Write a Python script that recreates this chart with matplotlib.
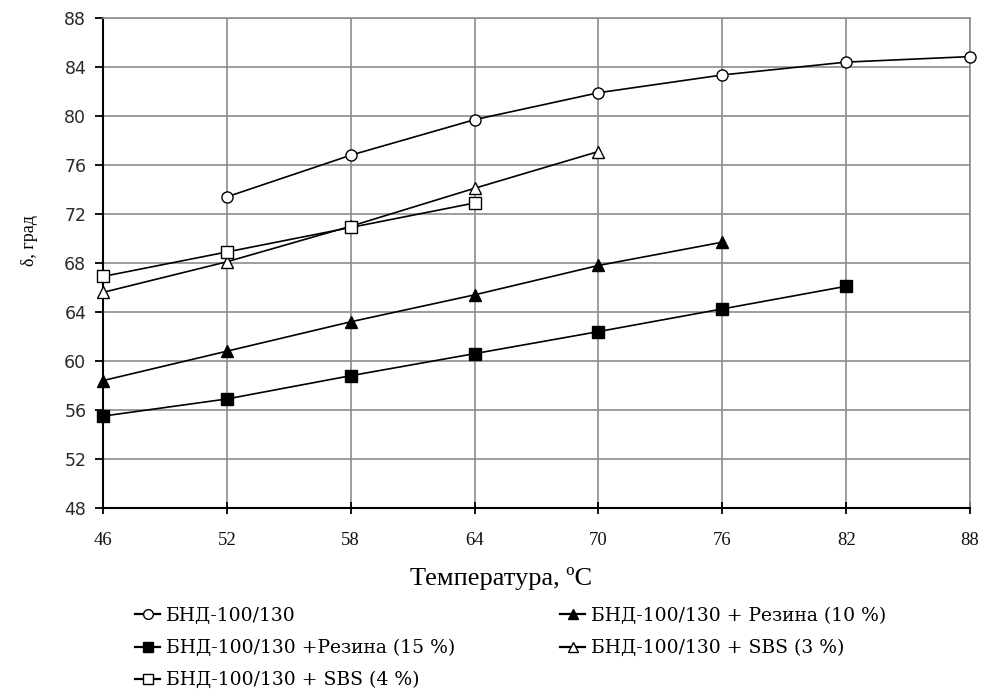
import matplotlib
matplotlib.use("Agg")
import matplotlib.pyplot as plt

temps_all = [46, 52, 58, 64, 70, 76, 82, 88]

x_bnd = [52, 58, 64, 70, 76, 82, 88]
y_bnd = [73.4, 76.8, 79.7, 81.9, 83.35, 84.4, 84.85]

x_rez10 = [46, 52, 58, 64, 70, 76]
y_rez10 = [58.4, 60.8, 63.2, 65.4, 67.8, 69.7]

x_rez15 = [46, 52, 58, 64, 70, 76, 82]
y_rez15 = [55.5, 56.9, 58.8, 60.6, 62.4, 64.25, 66.1]

x_sbs3 = [46, 52, 58, 64, 70]
y_sbs3 = [65.6, 68.1, 71.0, 74.1, 77.1]

x_sbs4 = [46, 52, 58, 64]
y_sbs4 = [66.9, 68.9, 70.9, 72.9]

labels = [
    "БНД-100/130",
    "БНД-100/130 + Резина (10 %)",
    "БНД-100/130 +Резина (15 %)",
    "БНД-100/130 + SBS (3 %)",
    "БНД-100/130 + SBS (4 %)",
]
y_ticks = list(range(48, 89, 4))

fig = plt.figure(figsize=(9.84, 6.9), dpi=100)
ax = fig.add_axes([0.1047, 0.2638, 0.8811, 0.7101])

lw = 1.2
ms = 8
common = dict(color="black", lw=lw, markersize=ms, markeredgewidth=1.0, zorder=3, clip_on=False)
h1, = ax.plot(x_bnd, y_bnd, marker="o", mfc="white", mec="black", label=labels[0], **common)
h2, = ax.plot(x_rez10, y_rez10, marker="^", mfc="black", mec="black", label=labels[1], **common)
h3, = ax.plot(x_rez15, y_rez15, marker="s", mfc="black", mec="black", label=labels[2], **common)
h4, = ax.plot(x_sbs3, y_sbs3, marker="^", mfc="white", mec="black", label=labels[3], **common)
h5, = ax.plot(x_sbs4, y_sbs4, marker="s", mfc="white", mec="black", label=labels[4], **common)

ax.set_xlim(46, 88)
ax.set_ylim(48, 88)
ax.set_xticks(temps_all)
ax.set_yticks(y_ticks)
ax.grid(True, color="#8c8c8c", lw=1.2, zorder=0)
ax.set_axisbelow(True)

for s in ["top", "right"]:
    ax.spines[s].set_color("#8c8c8c")
    ax.spines[s].set_linewidth(1.2)
for s in ["left", "bottom"]:
    ax.spines[s].set_color("black")
    ax.spines[s].set_linewidth(1.5)
    ax.spines[s].set_zorder(2.5)

ax.tick_params(axis="y", direction="out", length=6, width=1.3, pad=6)
ax.tick_params(axis="x", direction="inout", length=8, width=1.3, pad=13)

for t in ax.get_yticklabels():
    t.set_fontfamily("DejaVu Sans")
    t.set_fontsize(12.5)
    t.set_color("#2a2a2a")
for t in ax.get_xticklabels():
    t.set_fontfamily("Liberation Serif")
    t.set_fontsize(13.5)
    t.set_color("#111111")

fig.text(501 / 984, 1 - 578 / 690, "Температура, ºС", family="Liberation Serif",
         fontsize=19, ha="center", va="center")
fig.text(30 / 984, 1 - 241 / 690, "δ, град", family="Liberation Serif",
         fontsize=13, ha="center", va="center", rotation=90)

leg_kw = dict(loc="upper left", frameon=False,
              prop={"family": "DejaVu Serif", "size": 13.5},
              handlelength=1.35, labelspacing=0.75, handletextpad=0.3,
              borderaxespad=0.0, borderpad=0.0)
leg1 = fig.legend([h1, h3, h5], [labels[0], labels[2], labels[4]],
                  bbox_to_anchor=(135 / 984, 1 - 607 / 690), **leg_kw)
leg2 = fig.legend([h2, h4], [labels[1], labels[3]],
                  bbox_to_anchor=(560 / 984, 1 - 607 / 690), **leg_kw)
for lg in (leg1, leg2):
    for line in lg.get_lines():
        line.set_markersize(7)
        line.set_linewidth(1.6)

fig.savefig("out.png", dpi=100)
